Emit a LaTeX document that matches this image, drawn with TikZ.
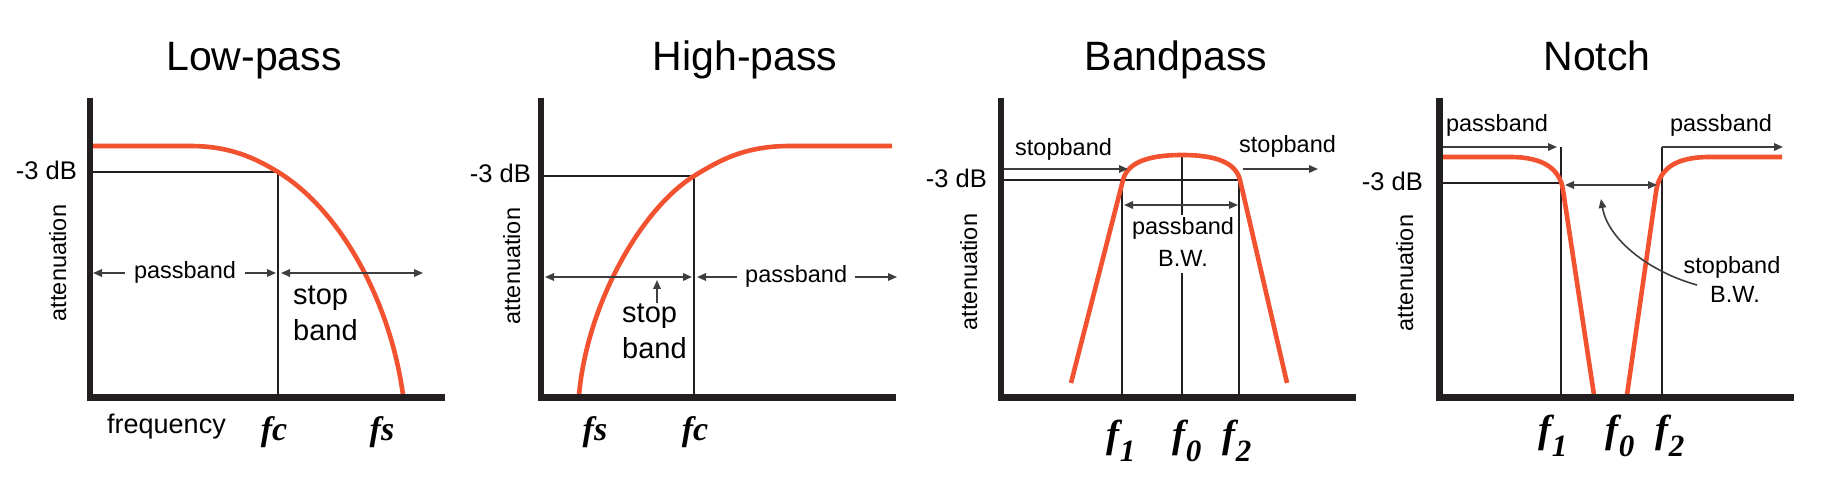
\documentclass[tikz,border=0pt]{standalone}
\usepackage{fontspec}
\setmainfont{Liberation Sans}
\newfontfamily\fser{Liberation Serif}
\usetikzlibrary{arrows.meta}
\definecolor{redc}{RGB}{243,82,48}
\definecolor{axisc}{RGB}{35,31,32}
\definecolor{arrc}{RGB}{62,62,62}
\newcommand{\fsz}[1]{\fontsize{#1}{#1}\selectfont}
\newcommand{\fsub}[1]{f\raisebox{-14pt}{\fsz{31}#1}}
\tikzset{
  axisline/.style={line width=6.5pt, color=axisc, line join=miter},
  guide/.style={line width=1.6pt, color=axisc},
  resp/.style={line width=4.6pt, color=redc, line join=round},
  dim/.style={line width=1.6pt, color=arrc, -{Triangle[length=9pt,width=7.5pt]}},
  dimd/.style={line width=1.6pt, color=arrc, {Triangle[length=9pt,width=7.5pt]}-{Triangle[length=9pt,width=7.5pt]}},
  ttl/.style={font=\fsz{41}, anchor=base, inner sep=0},
  lab/.style={font=\fsz{23.5}, anchor=base, inner sep=0},
  dbl/.style={font=\fsz{25.5}, anchor=base east, inner sep=0},
  ylab/.style={font=\fsz{23.5}, rotate=90, anchor=base, inner sep=0},
  big/.style={font=\fsz{29}, anchor=base west, inner sep=0},
  flab/.style={font=\fser\bfseries\itshape\fsz{34}, anchor=base, inner sep=0},
  flabn/.style={font=\fser\bfseries\itshape\fsz{39}, anchor=base, inner sep=0}
}
\begin{document}
\begin{tikzpicture}[x=1pt,y=-1pt]
\useasboundingbox[fill=white] (0,0) rectangle (1826,486);

% ================= Low-pass =================
\coordinate (a1t) at (90,98);
\coordinate (a1o) at (90,397.5);
\coordinate (a1e) at (445,397.5);
\coordinate (lp3) at (93,172);
\coordinate (lpc) at (278,172);
\coordinate (lpcb) at (278,397);
\draw[guide] (lp3) -- (lpc) -- (lpcb);
\draw[resp] (93,146) -- (190,146) .. controls (230,146) and (255,158) .. (lpc)
  .. controls (340,210) and (390,300) .. (403,395);
\draw[axisline] (a1t) -- (a1o) -- (a1e);
\coordinate (lpa1) at (93,273);
\coordinate (lpa2) at (125,273);
\coordinate (lpa3) at (245,273);
\coordinate (lpa4) at (276,273);
\coordinate (lpa5) at (281,273);
\coordinate (lpa6) at (423,273);
\draw[dim] (lpa2) -- (lpa1);
\draw[dim] (lpa3) -- (lpa4);
\draw[dimd] (lpa5) -- (lpa6);
\node[ttl] (t1) at (254,71) {Low-pass};
\node[dbl] (db1) at (77,180) {-3 dB};
\node[ylab] (y1) at (66,263) {attenuation};
\node[lab] (pb1) at (185,279) {passband};
\node[big] (st1) at (293,305) {stop};
\node[big] (bd1) at (293,341) {band};
\node[lab, anchor=base west, font=\fsz{27}] (fq1) at (107,433) {frequency};
\node[flab] (fc1) at (274,440) {fc};
\node[flab] (fs1) at (382,440) {fs};

% ================= High-pass =================
\coordinate (a2t) at (541,98);
\coordinate (a2o) at (541,397.5);
\coordinate (a2e) at (896,397.5);
\coordinate (hp3) at (544,176);
\coordinate (hpc) at (694,176);
\coordinate (hpcb) at (694,397);
\draw[guide] (hp3) -- (hpc) -- (hpcb);
\draw[resp] (579,395) .. controls (587,305) and (640,210) .. (hpc)
  .. controls (720,160) and (745,146) .. (790,146) -- (892,146);
\draw[axisline] (a2t) -- (a2o) -- (a2e);
\coordinate (hpa1) at (545,277);
\coordinate (hpa2) at (692,277);
\coordinate (hpa3) at (737,277);
\coordinate (hpa4) at (697,277);
\coordinate (hpa5) at (855,277);
\coordinate (hpa6) at (897,277);
\coordinate (hpu1) at (657,303);
\coordinate (hpu2) at (657,280);
\draw[dimd] (hpa1) -- (hpa2);
\draw[dim] (hpa3) -- (hpa4);
\draw[dim] (hpa5) -- (hpa6);
\draw[dim] (hpu1) -- (hpu2);
\node[ttl] (t2) at (745,71) {High-pass};
\node[dbl] (db2) at (531,183) {-3 dB};
\node[ylab] (y2) at (520,266) {attenuation};
\node[lab, anchor=base west] (pb2) at (745,283) {passband};
\node[big] (st2) at (622,323) {stop};
\node[big] (bd2) at (622,359) {band};
\node[flab] (fs2) at (595,440) {fs};
\node[flab] (fc2) at (695,440) {fc};

% ================= Bandpass =================
\coordinate (a3t) at (1001,98);
\coordinate (a3o) at (1001,397.5);
\coordinate (a3e) at (1356,397.5);
\coordinate (bp3) at (1004,180);
\coordinate (bp1t) at (1122,180);
\coordinate (bp1b) at (1122,397);
\coordinate (bp2t) at (1239,180);
\coordinate (bp2b) at (1239,397);
\coordinate (bp0t) at (1182,155);
\coordinate (bp0m) at (1182,215);
\coordinate (bp0n) at (1182,273);
\coordinate (bp0b) at (1182,397);
\draw[guide] (bp3) -- (bp2t);
\draw[guide] (bp1t) -- (bp1b);
\draw[guide] (bp2t) -- (bp2b);
\draw[guide] (bp0t) -- (bp0m);
\draw[guide] (bp0n) -- (bp0b);
\draw[resp] (1071,383) -- (1123,180) .. controls (1127,164) and (1145,155) .. (bp0t)
  .. controls (1219,155) and (1236,164) .. (1240,180) -- (1287,383);
\draw[axisline] (a3t) -- (a3o) -- (a3e);
\coordinate (bpa1) at (1004,169);
\coordinate (bpa2) at (1128,169);
\coordinate (bpa3) at (1243,169);
\coordinate (bpa4) at (1318,169);
\coordinate (bpa5) at (1124,205);
\coordinate (bpa6) at (1238,205);
\draw[dim] (bpa1) -- (bpa2);
\draw[dim] (bpa3) -- (bpa4);
\draw[dimd] (bpa5) -- (bpa6);
\node[ttl] (t3) at (1176,71) {Bandpass};
\node[dbl] (db3) at (987,188) {-3 dB};
\node[ylab] (y3) at (977,272) {attenuation};
\node[lab, anchor=base west] (sbl3) at (1015,156) {stopband};
\node[lab, anchor=base west] (sbr3) at (1239,153) {stopband};
\node[lab] (pb3) at (1183,235) {passband};
\node[lab] (bw3) at (1183,267) {B.W.};
\node[flabn] (f13) at (1121,447) {\fsub{1}};
\node[flabn] (f03) at (1187,447) {\fsub{0}};
\node[flabn] (f23) at (1237,447) {\fsub{2}};

% ================= Notch =================
\coordinate (a4t) at (1439.5,98);
\coordinate (a4o) at (1439.5,397.5);
\coordinate (a4e) at (1794,397.5);
\coordinate (nt3) at (1443,183);
\coordinate (nt1m) at (1561,183);
\coordinate (nt1t) at (1561,147);
\coordinate (nt1b) at (1561,397);
\coordinate (nt2t) at (1662,147);
\coordinate (nt2b) at (1662,397);
\draw[guide] (nt3) -- (nt1m);
\draw[guide] (nt1t) -- (nt1b);
\draw[guide] (nt2b) -- (nt2t);
\draw[resp] (1443,157) -- (1510,157) .. controls (1545,157) and (1560,170) .. (1563,190) -- (1594,395);
\draw[resp] (1627,395) -- (1656,192) .. controls (1659,171) and (1672,157) .. (1710,157) -- (1782,157);
\draw[axisline] (a4t) -- (a4o) -- (a4e);
\coordinate (nta1) at (1443,147);
\coordinate (nta2) at (1557,147);
\coordinate (nta3) at (1783,147);
\coordinate (nta4) at (1565,185);
\coordinate (nta5) at (1657,185);
\coordinate (ntc1) at (1697,285);
\coordinate (ntc2) at (1601,199);
\draw[dim] (nta1) -- (nta2);
\draw[dim] (nt2t) -- (nta3);
\draw[dimd] (nta4) -- (nta5);
\draw[dim] (ntc1) .. controls (1650,272) and (1608,240) .. (ntc2);
\node[ttl] (t4) at (1597,71) {Notch};
\node[dbl] (db4) at (1423,191) {-3 dB};
\node[ylab] (y4) at (1413,273) {attenuation};
\node[lab] (pbl4) at (1497,132) {passband};
\node[lab] (pbr4) at (1721,132) {passband};
\node[lab] (sb4) at (1732,274) {stopband};
\node[lab] (bw4) at (1735,303) {B.W.};
\node[flabn] (f14) at (1553,442) {\fsub{1}};
\node[flabn] (f04) at (1620,442) {\fsub{0}};
\node[flabn] (f24) at (1670,442) {\fsub{2}};
\end{tikzpicture}
\end{document}
